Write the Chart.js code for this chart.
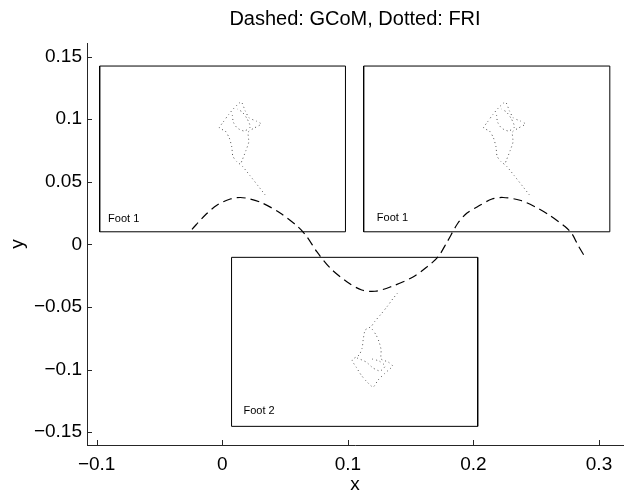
<!DOCTYPE html>
<html>
<head>
<meta charset="utf-8">
<script src="https://cdn.jsdelivr.net/npm/chart.js@4"></script>
<style>
  html, body { margin: 0; padding: 0; background: #fff; }
  #c { display: block; }
</style>
</head>
<body>
<canvas id="c" width="624" height="494"></canvas>
<script>
// ---------- data ----------
const titleText = 'Dashed: GCoM, Dotted: FRI';
const xLabel = 'x';
const yLabel = 'y';
const xRange = [-0.1077, 0.3191];
const yRange = [-0.1603, 0.1608];
const xTicks = [-0.1, 0, 0.1, 0.2, 0.3];
const yTicks = [-0.15, -0.1, -0.05, 0, 0.05, 0.1, 0.15];

// GCoM trajectory (dashed)
const gcomX = [-0.0241, -0.0135, -0.0040, 0.0064, 0.0143, 0.0223, 0.0318, 0.0461, 0.0605, 0.0674, 0.0753, 0.0859, 0.0992, 0.1111, 0.1217, 0.1337, 0.1519, 0.1631, 0.1718, 0.1790, 0.1877, 0.1949, 0.2029, 0.2148, 0.2236, 0.2371, 0.2490, 0.2594, 0.2729, 0.2784, 0.2832, 0.2888];
const gcomY = [0.0120, 0.0234, 0.0314, 0.0362, 0.0374, 0.0362, 0.0330, 0.0250, 0.0138, 0.0061, -0.0059, -0.0189, -0.0299, -0.0365, -0.0375, -0.0341, -0.0261, -0.0180, -0.0101, 0.0018, 0.0170, 0.0250, 0.0298, 0.0362, 0.0374, 0.0352, 0.0300, 0.0240, 0.0142, 0.0085, -0.0006, -0.0101];

// FRI traces (dotted) - foot 1 (first box)
const fri1X = [0.0342, 0.0286, 0.0223, 0.0159, 0.0111, 0.0084, 0.0076, 0.0056, 0.0024, -0.0024, 0.0008, 0.0048, 0.0095, 0.0151, 0.0183, 0.0215, 0.0270, 0.0310, 0.0255, 0.0207, 0.0211, 0.0187, 0.0159, 0.0143];
const fri1Y = [0.0394, 0.0466, 0.0546, 0.0625, 0.0665, 0.0705, 0.0777, 0.0849, 0.0905, 0.0929, 0.0977, 0.1033, 0.1089, 0.1137, 0.1065, 0.1009, 0.0985, 0.0961, 0.0929, 0.0897, 0.0817, 0.0745, 0.0673, 0.0633];
const fri1InX = [0.0080, 0.0088, 0.0119, 0.0175, 0.0223, 0.0199, 0.0159, 0.0119];
const fri1InY = [0.1033, 0.0977, 0.0929, 0.0905, 0.0937, 0.1001, 0.1057, 0.1081];
// foot 1 (second box)
const fri3X = [0.2446, 0.2390, 0.2327, 0.2263, 0.2215, 0.2188, 0.2180, 0.2160, 0.2128, 0.2080, 0.2112, 0.2152, 0.2199, 0.2255, 0.2287, 0.2319, 0.2374, 0.2414, 0.2359, 0.2311, 0.2315, 0.2291, 0.2263, 0.2247];
const fri3Y = [0.0394, 0.0466, 0.0546, 0.0625, 0.0665, 0.0705, 0.0777, 0.0849, 0.0905, 0.0929, 0.0977, 0.1033, 0.1089, 0.1137, 0.1065, 0.1009, 0.0985, 0.0961, 0.0929, 0.0897, 0.0817, 0.0745, 0.0673, 0.0633];
const fri3InX = [0.2184, 0.2192, 0.2223, 0.2279, 0.2327, 0.2303, 0.2263, 0.2223];
const fri3InY = [0.1033, 0.0977, 0.0929, 0.0905, 0.0937, 0.1001, 0.1057, 0.1081];
// foot 2
const fri2X = [0.1396, 0.1360, 0.1313, 0.1265, 0.1217, 0.1185, 0.1138, 0.1122, 0.1114, 0.1090, 0.1034, 0.1066, 0.1106, 0.1146, 0.1201, 0.1241, 0.1297, 0.1356, 0.1321, 0.1265, 0.1265, 0.1249, 0.1225, 0.1193];
const fri2Y = [-0.0389, -0.0433, -0.0497, -0.0557, -0.0613, -0.0657, -0.0685, -0.0764, -0.0828, -0.0884, -0.0924, -0.0980, -0.1044, -0.1092, -0.1140, -0.1084, -0.1028, -0.0972, -0.0940, -0.0916, -0.0844, -0.0780, -0.0724, -0.0677];
const fri2InX = [0.1074, 0.1146, 0.1201, 0.1257, 0.1297, 0.1249, 0.1193];
const fri2InY = [-0.0908, -0.0940, -0.0988, -0.1012, -0.0972, -0.0932, -0.0916];

// inset boxes (corners)
const box1X = [-0.0976, 0.0981, 0.0981, -0.0976, -0.0976];
const box1Y = [0.0100, 0.0100, 0.1424, 0.1424, 0.0100];
const box2X = [0.1126, 0.3086, 0.3086, 0.1126, 0.1126];
const box2Y = [0.0100, 0.0100, 0.1424, 0.1424, 0.0100];
const box3X = [0.0074, 0.2034, 0.2034, 0.0074, 0.0074];
const box3Y = [-0.0104, -0.0104, -0.1454, -0.1454, -0.0104];

// box captions
const capText = ['Foot 1', 'Foot 1', 'Foot 2'];
const capX = [-0.0909, 0.1231, 0.0169];
const capY = [0.0202, 0.0213, -0.1331];

// ---------- helpers ----------
const FONT = "'Liberation Sans', Arial, Helvetica, sans-serif";
const AXIS = '#262626';
const pts = (xs, ys) => xs.map((x, i) => ({ x: x, y: ys[i] }));
const fmt = v => {
  if (v === 0) return '0';
  const s = String(+Math.abs(v).toFixed(2));
  return v < 0 ? '\u2212' + s : s;
};

const boxDs = (xs, ys) => ({ data: pts(xs, ys), showLine: true, pointRadius: 0, borderColor: '#000', borderWidth: 1, tension: 0, fill: false });
const dotDs = (xs, ys) => ({ data: pts(xs, ys), showLine: true, pointRadius: 0, borderColor: '#555', borderWidth: 1, borderDash: [1, 3], tension: 0.2, fill: false });

const inTicks = {
  id: 'inTicks',
  afterDatasetsDraw(chart) {
    const { ctx, chartArea, scales } = chart;
    ctx.save();
    ctx.strokeStyle = AXIS;
    ctx.lineWidth = 1;
    ctx.beginPath();
    xTicks.forEach(v => {
      const p = Math.round(scales.x.getPixelForValue(v)) + 0.5;
      ctx.moveTo(p, chartArea.bottom);
      ctx.lineTo(p, chartArea.bottom - 5);
    });
    yTicks.forEach(v => {
      const p = Math.round(scales.y.getPixelForValue(v)) + 0.5;
      ctx.moveTo(chartArea.left, p);
      ctx.lineTo(chartArea.left + 5, p);
    });
    ctx.stroke();
    ctx.restore();
  }
};

const captions = {
  id: 'captions',
  afterDatasetsDraw(chart) {
    const { ctx, scales } = chart;
    ctx.save();
    ctx.fillStyle = '#000';
    ctx.font = '11px ' + FONT;
    ctx.textAlign = 'left';
    ctx.textBaseline = 'middle';
    capText.forEach((t, i) => {
      ctx.fillText(t, scales.x.getPixelForValue(capX[i]), scales.y.getPixelForValue(capY[i]));
    });
    ctx.restore();
  }
};

new Chart(document.getElementById('c'), {
  type: 'scatter',
  data: {
    datasets: [
      boxDs(box1X, box1Y),
      boxDs(box2X, box2Y),
      boxDs(box3X, box3Y),
      dotDs(fri1X, fri1Y),
      dotDs(fri1InX, fri1InY),
      dotDs(fri3X, fri3Y),
      dotDs(fri3InX, fri3InY),
      dotDs(fri2X, fri2Y),
      dotDs(fri2InX, fri2InY),
      { data: pts(gcomX, gcomY), showLine: true, pointRadius: 0, borderColor: '#000', borderWidth: 1.2, borderDash: [9, 5], tension: 0.3, fill: false }
    ]
  },
  options: {
    responsive: false,
    animation: false,
    devicePixelRatio: 1,
    layout: { padding: { left: 0, right: 1, top: 0, bottom: 0 } },
    plugins: {
      legend: { display: false },
      tooltip: { enabled: false },
      title: {
        display: true,
        fullSize: false,
        text: titleText,
        color: '#000',
        font: { family: FONT, size: 20, weight: 'normal' },
        padding: { top: 7.5, bottom: 11.5 }
      }
    },
    scales: {
      x: {
        type: 'linear',
        min: xRange[0],
        max: xRange[1],
        afterBuildTicks: s => { s.ticks = xTicks.map(v => ({ value: v })); },
        afterFit: s => { s.height = 49; },
        grid: { display: false, drawTicks: false },
        border: { display: true, color: AXIS, width: 1 },
        ticks: { callback: fmt, color: '#000', font: { family: FONT, size: 19 }, padding: 8, maxRotation: 0, autoSkip: false },
        title: { display: true, text: xLabel, color: '#000', font: { family: FONT, size: 19 }, padding: { top: 0, bottom: -2 } }
      },
      y: {
        type: 'linear',
        min: yRange[0],
        max: yRange[1],
        afterBuildTicks: s => { s.ticks = yTicks.map(v => ({ value: v })); },
        afterFit: s => { s.width = 87; },
        grid: { display: false, drawTicks: false },
        border: { display: true, color: AXIS, width: 1 },
        ticks: { callback: fmt, color: '#000', font: { family: FONT, size: 19 }, padding: 5, autoSkip: false },
        title: { display: true, text: yLabel, color: '#000', font: { family: FONT, size: 19 }, padding: { top: 6, bottom: 0 } }
      }
    }
  },
  plugins: [inTicks, captions]
});
</script>
</body>
</html>
